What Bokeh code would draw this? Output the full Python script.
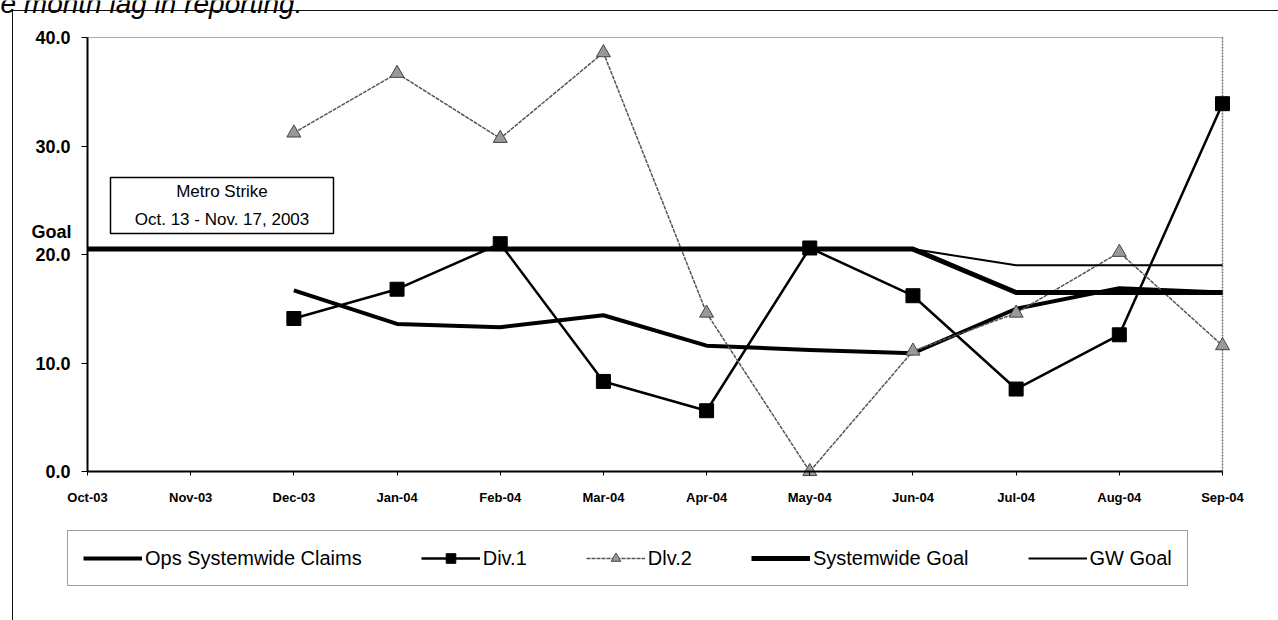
from bokeh.plotting import figure
from bokeh.models import (Range1d, FixedTicker, Legend, LegendItem, Label,
                          BoxAnnotation)
from bokeh.embed import file_html
from bokeh.resources import INLINE

# --- data -------------------------------------------------------------
months = ["Oct-03", "Nov-03", "Dec-03", "Jan-04", "Feb-04", "Mar-04",
          "Apr-04", "May-04", "Jun-04", "Jul-04", "Aug-04", "Sep-04"]
month_idx = list(range(len(months)))

# claims series are reported from Dec-03 onward
claim_months = ["Dec-03", "Jan-04", "Feb-04", "Mar-04", "Apr-04",
                "May-04", "Jun-04", "Jul-04", "Aug-04", "Sep-04"]
ops_systemwide_claims = [16.7, 13.6, 13.3, 14.4, 11.6, 11.2, 10.9, 15.0, 16.9, 16.5]
div_1 = [14.1, 16.8, 21.0, 8.3, 5.6, 20.6, 16.2, 7.6, 12.6, 33.9]
div_2 = [31.2, 36.7, 30.7, 38.6, 14.6, 0.0, 11.1, 14.6, 20.2, 11.6]

systemwide_goal = [20.5, 20.5, 20.5, 20.5, 20.5, 20.5, 20.5, 20.5, 20.5, 16.5, 16.5, 16.5]
gw_goal = [20.5, 20.5, 20.5, 20.5, 20.5, 20.5, 20.5, 20.5, 20.5, 19.0, 19.0, 19.0]

y_ticks = [0, 10, 20, 30, 40]
y_tick_labels = ["0.0", "10.0", "20.0", "30.0", "40.0"]
Y_MAX = 40

FONT = "Liberation Sans"

claim_x = [months.index(m) for m in claim_months]
n_last = len(months) - 1

# --- page geometry (canvas pixels) --------------------------------------
# The frame fills the whole canvas so that the legend and the notes
# outside the value area are not cut; the axes are pinned at 0.
CANVAS_W, CANVAS_H = 1278, 620
AXIS_X0, AXIS_X1 = 87, 1222   # Oct-03 .. Sep-04
AXIS_Y0, AXIS_Y1 = 471, 37    # 0.0 .. 40.0

px_month = (AXIS_X1 - AXIS_X0) / n_last
px_unit = (AXIS_Y0 - AXIS_Y1) / Y_MAX


def to_x(cx):
    return (cx - AXIS_X0) / px_month


def to_y(cy):
    return (AXIS_Y0 - cy) / px_unit


# page frame drawn round the whole chart (left and top edges)
PAGE_FRAME_CSS = """
:host::after {
  content: "";
  position: absolute;
  left: 12px; top: 10px; right: 0; bottom: 0;
  border-left: 1.5px solid #111;
  border-top: 1.5px solid #111;
  pointer-events: none;
  z-index: 10;
}
"""

# --- figure -------------------------------------------------------------
p = figure(frame_width=CANVAS_W, frame_height=CANVAS_H,
           x_range=Range1d(to_x(0), to_x(CANVAS_W)),
           y_range=Range1d(to_y(CANVAS_H), to_y(0)),
           output_backend="svg", toolbar_location=None,
           min_border_left=0, min_border_right=0,
           min_border_top=0, min_border_bottom=0)
p.stylesheets = [PAGE_FRAME_CSS]
p.background_fill_color = "white"
p.border_fill_color = "white"
p.outline_line_color = None
p.xgrid.visible = False
p.ygrid.visible = False

# x axis: one tick per month, crossing at 0.0
p.xaxis.fixed_location = 0
p.xaxis.bounds = (0, n_last)
p.xaxis.ticker = FixedTicker(ticks=month_idx)
p.xaxis.major_label_overrides = {i: m for i, m in enumerate(months)}
p.xaxis.axis_line_width = 2
p.xaxis.axis_line_color = "black"
p.xaxis.major_tick_out = 4
p.xaxis.major_tick_in = 0
p.xaxis.minor_tick_line_color = None
p.xaxis.major_label_standoff = 14
p.xaxis.major_label_text_font = FONT
p.xaxis.major_label_text_font_size = "13px"
p.xaxis.major_label_text_font_style = "bold"
p.xaxis.major_label_text_color = "black"

# y axis at Oct-03
p.yaxis.fixed_location = 0
p.yaxis.bounds = (0, Y_MAX)
p.yaxis.ticker = FixedTicker(ticks=y_ticks)
p.yaxis.major_label_overrides = dict(zip(y_ticks, y_tick_labels))
p.yaxis.axis_line_width = 2
p.yaxis.axis_line_color = "black"
p.yaxis.major_tick_out = 6
p.yaxis.major_tick_in = 0
p.yaxis.minor_tick_line_color = None
p.yaxis.major_label_standoff = 11
p.yaxis.major_label_text_font = FONT
p.yaxis.major_label_text_font_size = "18px"
p.yaxis.major_label_text_font_style = "bold"
p.yaxis.major_label_text_color = "black"

# plot-area border: dotted top edge, dashed right edge at Sep-04
p.segment(x0=[0], y0=[Y_MAX], x1=[n_last], y1=[Y_MAX],
          line_color="#555555", line_dash="1 1", line_width=1)
p.segment(x0=[n_last], y0=[0], x1=[n_last], y1=[Y_MAX],
          line_color="#777777", line_dash="2 1", line_width=1.5)

# --- series -------------------------------------------------------------
r_ops = p.line(claim_x, ops_systemwide_claims, line_color="black",
               line_width=4, line_join="round")
r_d1_line = p.line(claim_x, div_1, line_color="black", line_width=2.5,
                   line_join="round")
r_d1_pts = p.scatter(claim_x, div_1, marker="square", size=14,
                     fill_color="black", line_color="black")
r_d2_line = p.line(claim_x, div_2, line_color="#555555", line_width=1.5,
                   line_dash="4 1", line_join="round")
r_d2_pts = p.scatter(claim_x, div_2, marker="triangle", size=14,
                     fill_color="#999999", line_color="#444444", line_width=1)
r_sg = p.line(month_idx, systemwide_goal, line_color="black", line_width=5,
              line_join="round")
r_gw = p.line(month_idx, gw_goal, line_color="black", line_width=2,
              line_join="round")

# --- legend under the month labels -----------------------------------------
LEGEND_LEFT, LEGEND_BOTTOM = 67, 586
legend = Legend(
    items=[
        LegendItem(label="Ops Systemwide Claims", renderers=[r_ops]),
        LegendItem(label="Div.1", renderers=[r_d1_line, r_d1_pts]),
        LegendItem(label="Dlv.2", renderers=[r_d2_line, r_d2_pts]),
        LegendItem(label="Systemwide Goal", renderers=[r_sg]),
        LegendItem(label="GW Goal", renderers=[r_gw]),
    ],
    orientation="horizontal",
    location=(LEGEND_LEFT, CANVAS_H - LEGEND_BOTTOM),
    margin=0, glyph_width=59, glyph_height=24, label_standoff=3, spacing=59,
    padding=15, border_line_color="#444444", border_line_width=1,
    background_fill_color="white", background_fill_alpha=1.0,
    label_text_font=FONT, label_text_font_size="20px", label_text_color="black",
)
p.add_layout(legend)

# "Goal" caption above the 20.0 tick label
p.add_layout(Label(x=to_x(71), y=to_y(231.5), text="Goal", text_align="right",
                   text_baseline="middle", text_font=FONT,
                   text_font_size="18px", text_font_style="bold",
                   text_color="black"))

# --- strike annotation ----------------------------------------------------
p.add_layout(BoxAnnotation(left=to_x(110), right=to_x(333),
                           top=to_y(177), bottom=to_y(233),
                           fill_color="white", fill_alpha=1.0,
                           line_color="black", line_alpha=1.0, line_width=1.5))
p.add_layout(Label(x=to_x(221.5), y=to_y(191), text="Metro Strike",
                   text_align="center", text_baseline="middle",
                   text_font=FONT, text_font_size="17px", text_color="black"))
p.add_layout(Label(x=to_x(221.5), y=to_y(219), text="Oct. 13 - Nov. 17, 2003",
                   text_align="center", text_baseline="middle",
                   text_font=FONT, text_font_size="17px", text_color="black"))

# running text of the page, cut by the top edge
p.add_layout(Label(x=to_x(0), y=to_y(3), text="e month lag in reporting.",
                   text_align="left", text_baseline="alphabetic",
                   text_font=FONT, text_font_size="28px",
                   text_font_style="italic", text_color="black"))

open("out.html", "w").write(file_html(p, INLINE))
